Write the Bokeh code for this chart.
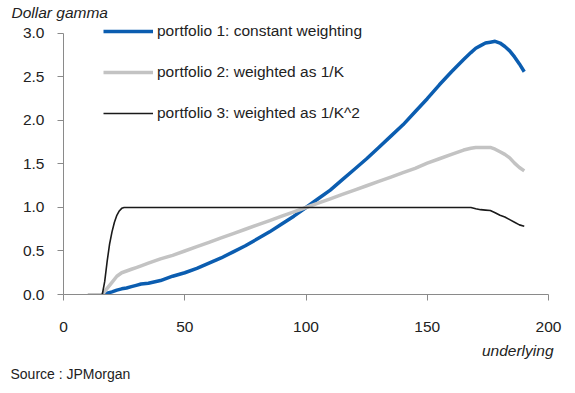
from bokeh.plotting import figure
from bokeh.models import Range1d, FixedTicker, PrintfTickFormatter, Legend, LegendItem, Title
from bokeh.embed import file_html
from bokeh.resources import INLINE

# ---- data ----
x_p1 = [16, 18, 20, 22, 24, 26, 28, 30, 32, 35, 40, 45, 50, 55, 60, 65, 70, 75, 80, 85, 90, 95,
        100, 105, 110, 115, 120, 125, 130, 135, 140, 145, 150, 155, 160, 165, 168, 170, 172, 174,
        176, 178, 180, 182, 184, 186, 188, 190]
y_p1 = [0.0, 0.015, 0.03, 0.05, 0.065, 0.075, 0.09, 0.105, 0.12, 0.13, 0.16, 0.21, 0.25, 0.30,
        0.36, 0.42, 0.49, 0.56, 0.64, 0.72, 0.81, 0.90, 1.00, 1.10, 1.20, 1.32, 1.44, 1.56, 1.69,
        1.82, 1.95, 2.10, 2.25, 2.41, 2.56, 2.70, 2.78, 2.83, 2.86, 2.89, 2.90, 2.91, 2.89, 2.85,
        2.80, 2.73, 2.65, 2.56]

x_p2 = x_p1
y_p2 = [0.0, 0.07, 0.14, 0.21, 0.25, 0.27, 0.29, 0.31, 0.33, 0.36, 0.41, 0.45, 0.50, 0.55, 0.60,
        0.65, 0.70, 0.75, 0.80, 0.85, 0.90, 0.95, 1.00, 1.05, 1.10, 1.15, 1.20, 1.25, 1.30, 1.35,
        1.40, 1.45, 1.51, 1.56, 1.61, 1.66, 1.68, 1.69, 1.69, 1.69, 1.69, 1.67, 1.64, 1.61, 1.57,
        1.51, 1.46, 1.42]

x_p3 = [10, 16, 17, 18, 19, 20, 21, 22, 23, 24, 25, 26, 100, 168, 170, 172, 174, 176, 178, 180,
        182, 184, 186, 188, 190]
y_p3 = [0.0, 0.0, 0.15, 0.38, 0.58, 0.72, 0.83, 0.91, 0.96, 0.99, 1.0, 1.0, 1.0, 1.0, 0.985,
        0.975, 0.97, 0.965, 0.94, 0.91, 0.89, 0.86, 0.83, 0.80, 0.785]

series_names = ["portfolio 1: constant weighting",
                "portfolio 2: weighted as 1/K",
                "portfolio 3: weighted as 1/K^2"]
x_ticks = [0, 50, 100, 150, 200]
y_ticks = [0.0, 0.5, 1.0, 1.5, 2.0, 2.5, 3.0]

FONT = "Liberation Sans"
TXT = "#222222"
AX = "#8a8a8a"

p = figure(width=575, height=393, output_backend="svg", toolbar_location=None,
           x_range=Range1d(0, 200), y_range=Range1d(0, 3.149),
           min_border_left=63, min_border_right=27, min_border_top=20, min_border_bottom=99)
p.outline_line_color = None
p.xgrid.visible = False
p.ygrid.visible = False
p.background_fill_color = "white"
p.border_fill_color = "white"

r1 = p.line(x_p1, y_p1, line_color="#0B5DB0", line_width=3.5)
r2 = p.line(x_p2, y_p2, line_color="#C3C3C3", line_width=3.5)
r3 = p.line(x_p3, y_p3, line_color="#1a1a1a", line_width=1.6)

for ax in (p.xaxis[0], p.yaxis[0]):
    ax.axis_line_color = AX
    ax.major_tick_line_color = AX
    ax.minor_tick_line_color = None
    ax.major_tick_in = 0
    ax.major_tick_out = 6
    ax.major_label_text_font = FONT
    ax.major_label_text_font_size = "15.5px"
    ax.major_label_text_color = TXT

p.xaxis[0].ticker = FixedTicker(ticks=x_ticks)
p.xaxis[0].major_label_standoff = 21
p.xaxis[0].bounds = (0, 200)
p.yaxis[0].ticker = FixedTicker(ticks=y_ticks)
p.yaxis[0].formatter = PrintfTickFormatter(format="%.1f")
p.yaxis[0].major_label_standoff = 13
p.yaxis[0].bounds = (0, 3)

legend = Legend(items=[LegendItem(label=series_names[0], renderers=[r1]),
                       LegendItem(label=series_names[1], renderers=[r2]),
                       LegendItem(label=series_names[2], renderers=[r3])],
                location=(40, 171), padding=0, margin=0, spacing=21,
                glyph_width=50, glyph_height=20, label_height=20, label_standoff=4,
                label_text_font=FONT, label_text_font_size="15.5px", label_text_color=TXT,
                border_line_color=None, background_fill_alpha=0)
p.add_layout(legend, "center")

p.title = Title(text="Dollar gamma", align="left", offset=-52, standoff=0,
                text_font=FONT, text_font_size="15.5px", text_font_style="italic",
                text_color=TXT, vertical_align="bottom")
p.add_layout(Title(text="underlying", align="right", offset=-5, standoff=10,
                   text_font=FONT, text_font_size="15.5px", text_font_style="italic",
                   text_color=TXT), "below")
p.add_layout(Title(text="Source : JPMorgan", align="left", offset=-53, standoff=1,
                   text_font=FONT, text_font_size="14px", text_font_style="normal",
                   text_color=TXT), "below")

open("out.html", "w").write(file_html(p, INLINE))
